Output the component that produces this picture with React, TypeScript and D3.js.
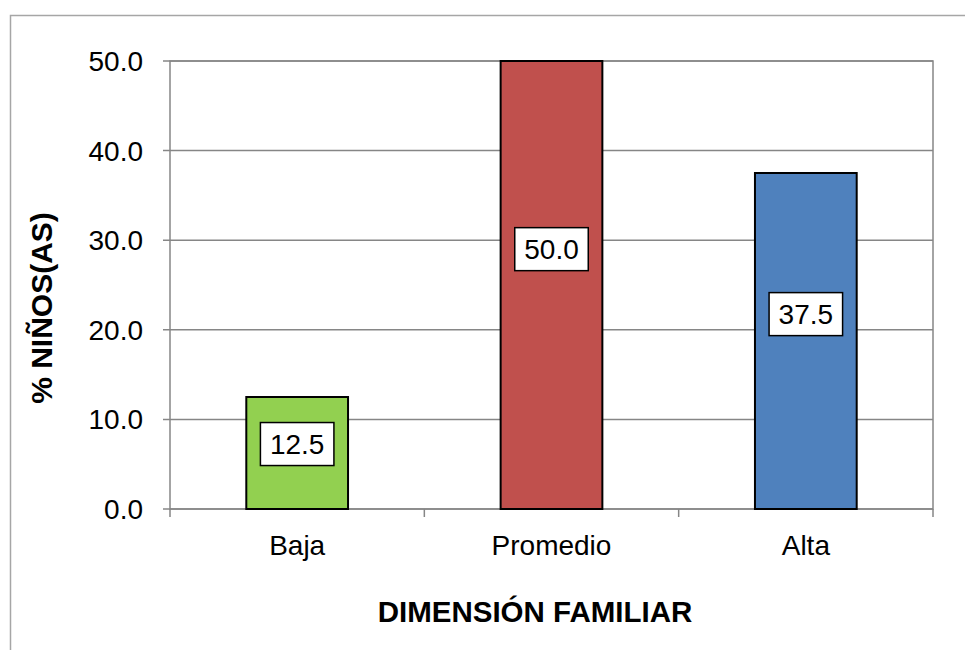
import * as d3 from 'd3'
import { useEffect, useRef } from 'react'

const categories = ['Baja', 'Promedio', 'Alta']
const values = [12.5, 50.0, 37.5]
const barColors = ['#92D050', '#C0504D', '#4F81BD']
const yTicks = [0, 10, 20, 30, 40, 50]
const xTitle = 'DIMENSIÓN FAMILIAR'
const yTitle = '% NIÑOS(AS)'

export default function App() {
  const ref = useRef<SVGSVGElement | null>(null)

  useEffect(() => {
    if (!ref.current) return
    const width = 965
    const height = 650
    const plot = { left: 170, top: 61, right: 933, bottom: 509 }
    const font = 'Liberation Sans, Arial, sans-serif'
    const grid = '#868686'

    const svg = d3.select(ref.current)
    svg.selectAll('*').remove()

    svg.append('rect')
      .attr('x', 0).attr('y', 0).attr('width', width).attr('height', height)
      .attr('fill', '#fff')

    // outer chart border (runs off the page on the right and bottom)
    svg.append('rect')
      .attr('x', 10.5).attr('y', 15.5).attr('width', 1000).attr('height', 700)
      .attr('fill', 'none').attr('stroke', '#a6a6a6').attr('stroke-width', 1.5)

    const x = d3.scaleBand()
      .domain(categories)
      .range([plot.left, plot.right])
      .paddingInner(0.6)
      .paddingOuter(0.3)

    const y = d3.scaleLinear()
      .domain([0, 50])
      .range([plot.bottom, plot.top])

    // gridlines
    svg.append('g')
      .selectAll('line')
      .data(yTicks)
      .join('line')
      .attr('x1', plot.left - 7).attr('x2', plot.right)
      .attr('y1', d => y(d)).attr('y2', d => y(d))
      .attr('stroke', grid).attr('stroke-width', 1.5)

    // plot frame
    svg.append('rect')
      .attr('x', plot.left).attr('y', plot.top)
      .attr('width', plot.right - plot.left).attr('height', plot.bottom - plot.top)
      .attr('fill', 'none').attr('stroke', grid).attr('stroke-width', 1.5)

    // category boundary ticks
    const step = x.step()
    const bounds = categories.map(c => x(c)! - step * 0.3).concat([plot.right])
    svg.append('g')
      .selectAll('line')
      .data(bounds)
      .join('line')
      .attr('x1', d => d).attr('x2', d => d)
      .attr('y1', plot.bottom).attr('y2', plot.bottom + 8)
      .attr('stroke', grid).attr('stroke-width', 1.5)

    // y tick labels
    svg.append('g')
      .selectAll('text')
      .data(yTicks)
      .join('text')
      .attr('x', plot.left - 27)
      .attr('y', d => y(d))
      .attr('dy', '0.36em')
      .attr('text-anchor', 'end')
      .attr('font-family', font).attr('font-size', 28)
      .text(d => d3.format('.1f')(d))

    // bars
    svg.append('g')
      .selectAll('rect')
      .data(values)
      .join('rect')
      .attr('x', (_, i) => x(categories[i])!)
      .attr('y', d => y(d))
      .attr('width', x.bandwidth())
      .attr('height', d => y(0) - y(d))
      .attr('fill', (_, i) => barColors[i])
      .attr('stroke', '#000').attr('stroke-width', 2)

    // value labels
    const labels = svg.append('g')
      .selectAll('g')
      .data(values)
      .join('g')
      .attr('transform', (d, i) =>
        `translate(${x(categories[i])! + x.bandwidth() / 2},${y(d * 0.58)})`)
    const box = labels.append('rect')
      .attr('fill', '#fff').attr('stroke', '#000').attr('stroke-width', 1.5)
    const txt = labels.append('text')
      .attr('text-anchor', 'middle')
      .attr('dy', '0.36em')
      .attr('font-family', font).attr('font-size', 28)
      .text(d => d3.format('.1f')(d))
    txt.each(function (_, i) {
      const w = (this as SVGTextElement).getComputedTextLength() + 19
      d3.select(box.nodes()[i])
        .attr('x', -w / 2).attr('y', -21.5)
        .attr('width', w).attr('height', 43)
    })

    // category labels
    svg.append('g')
      .selectAll('text')
      .data(categories)
      .join('text')
      .attr('x', d => x(d)! + x.bandwidth() / 2)
      .attr('y', 555)
      .attr('text-anchor', 'middle')
      .attr('font-family', font).attr('font-size', 28)
      .text(d => d)

    svg.append('text')
      .attr('x', 535)
      .attr('y', 622)
      .attr('text-anchor', 'middle')
      .attr('font-family', font).attr('font-size', 29.5).attr('font-weight', 'bold')
      .text(xTitle)

    svg.append('text')
      .attr('transform', `translate(52,${(plot.top + plot.bottom) / 2 + 23}) rotate(-90)`)
      .attr('text-anchor', 'middle')
      .attr('font-family', font).attr('font-size', 30).attr('font-weight', 'bold')
      .text(yTitle)
  }, [])

  return (
    <svg ref={ref} width={965} height={650}
      style={{ position: 'absolute', left: 0, top: 0, display: 'block' }} />
  )
}
